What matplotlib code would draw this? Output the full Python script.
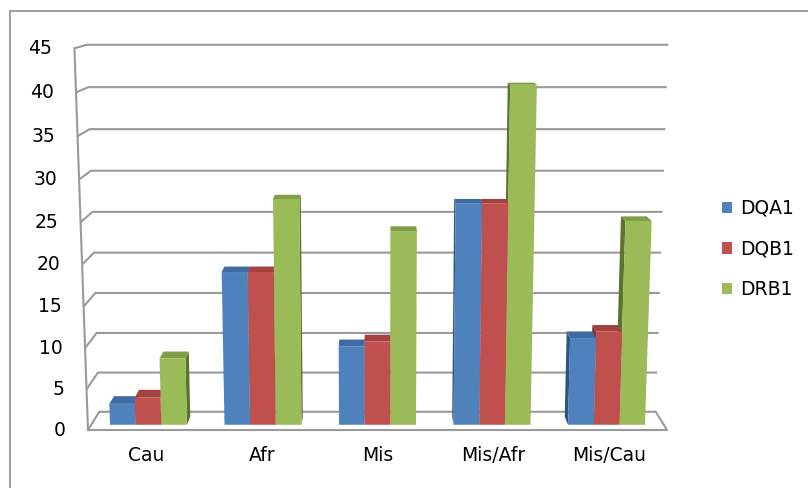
import numpy as np
import matplotlib.pyplot as plt
from matplotlib.patches import Polygon, Patch, Rectangle

categories = ["Cau", "Afr", "Mis", "Mis/Afr", "Mis/Cau"]
series = ["DQA1", "DQB1", "DRB1"]
dqa1 = [2.6, 18.7, 9.7, 26.9, 10.7]
dqb1 = [3.4, 18.7, 10.3, 26.9, 11.5]
drb1 = [8.2, 27.4, 23.6, 40.7, 24.8]
yticks = list(range(0, 50, 5))

front_colors = ["#4F81BD", "#C0504D", "#9BBB59"]
top_colors = ["#3F6CA5", "#A5413E", "#809E46"]
side_colors = ["#2E5281", "#8A3532", "#5A742B"]
grid_color = "#9a9a9a"

plt.rcParams["font.family"] = "DejaVu Sans"
fs = 13.5

# perspective camera tilted down a little, centred on the middle category
tilt = np.radians(10.3)
focal, dist = 1517.0, 1451.0
cat_w, val_h, depth = 111.0, 8.08, 60.0
n = len(categories)
cx, cd, cv = (n - 1) / 2, 0.5, yticks[-1] / 2


def project(x, d, v):
    px = (np.asarray(x, float) - cx) * cat_w
    py = (np.asarray(d, float) - cd) * depth
    pz = (np.asarray(v, float) - cv) * val_h
    s, c = np.sin(tilt), np.cos(tilt)
    yc = py * s + pz * c
    zc = dist + py * c - pz * s
    return focal * px / zc, focal * yc / zc


def face(ax, pts, color, z):
    xs, ds, vs = zip(*pts)
    u, w = project(xs, ds, vs)
    ax.add_patch(Polygon(np.column_stack([u, w]), closed=True, fc=color,
                         ec="none", zorder=z))


fig = plt.figure(figsize=(8.08, 4.88), dpi=100)
ax = fig.add_axes([0, 0, 1, 1])
ax.set_xlim(-377.5, 808 - 377.5)
ax.set_ylim(-(488 - 237.8), 237.8)
ax.axis("off")

# outer chart border
fig.add_artist(Rectangle((10 / 808, -0.1), 1.2, 1 - 11 / 488 + 0.1,
                         transform=fig.transFigure, fill=False,
                         ec="#8c8c8c", lw=1.2))

# walls: gridlines on the back and side wall
left, right = -0.5, n - 0.5
for v in yticks:
    u, w = project([left, left, right], [0, 1, 1], [v, v, v])
    ax.plot(u, w, color=grid_color, lw=1.5, zorder=1, solid_capstyle="butt")
    tu, tw = project(left, 0, v)
    ax.text(tu - 22, tw, str(v), ha="right", va="center", fontsize=fs)

u, w = project([left, left], [0, 0], [0, yticks[-1]])
ax.plot(u, w, color=grid_color, lw=1.5, zorder=1)
u, w = project([left, right, right], [0, 0, 1], [0, 0, 0])
ax.plot(u, w, color=grid_color, lw=1.5, zorder=1)

# bars
values = [dqa1, dqb1, drb1]
bw = 0.224
d0, d1 = 0.28, 0.72
bars = []
for j in range(n):
    for i in range(len(series)):
        x0 = j + (i - 1.5) * bw
        bars.append((x0, x0 + bw, values[i][j], i))
bars.sort(key=lambda b: -abs((b[0] + b[1]) / 2 - cx))

for k, (x0, x1, v, i) in enumerate(bars):
    z = 2 + k * 0.01
    xs = x1 if (x0 + x1) / 2 < cx else x0
    face(ax, [(xs, d0, 0), (xs, d1, 0), (xs, d1, v), (xs, d0, v)],
         side_colors[i], z)
    face(ax, [(x0, d0, v), (x1, d0, v), (x1, d1, v), (x0, d1, v)],
         top_colors[i], z + 0.001)
    face(ax, [(x0, d0, 0), (x1, d0, 0), (x1, d0, v), (x0, d0, v)],
         front_colors[i], z + 0.002)

for j, cat in enumerate(categories):
    u, w = project(j, 0, 0)
    ax.text(u, w - 25, cat, ha="center", va="center", fontsize=fs)

handles = [Patch(fc=c, ec="none") for c in front_colors]
fig.legend(handles, series, loc="center left",
           bbox_to_anchor=(705 / 808, 1 - 249 / 488), frameon=False,
           fontsize=fs, handlelength=0.55, handleheight=0.55,
           handletextpad=0.45, labelspacing=1.15)

fig.savefig("out.png", dpi=100)
